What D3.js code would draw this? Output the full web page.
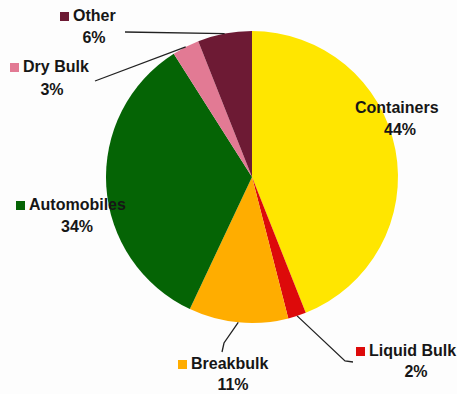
<!DOCTYPE html>
<html>
<head>
<meta charset="utf-8">
<script src="https://cdn.jsdelivr.net/npm/d3@7"></script>
<style>
  html, body { margin: 0; padding: 0; background: #fdfdfd; }
  svg { display: block; }
  text { font-family: "Liberation Sans", Arial, sans-serif; font-weight: bold; fill: #161616; }
</style>
</head>
<body>
<svg id="chart" width="457" height="394"></svg>
<script>
// Cargo mix by share of tonnage
const categories = ["Containers", "Liquid Bulk", "Breakbulk", "Automobiles", "Dry Bulk", "Other"];
const shares = [44, 2, 11, 34, 3, 6];
const colors = ["#ffe600", "#dd0a0a", "#ffad00", "#056405", "#e27a94", "#6d1a34"];

const W = 457, H = 394;
const cx = 252, cy = 177, R = 146;

const svg = d3.select("#chart");
const g = svg.append("g").attr("transform", `translate(${cx},${cy})`);

const data = categories.map((c, i) => ({ name: c, value: shares[i], color: colors[i] }));
const pie = d3.pie().value(d => d.value).sort(null);
const arc = d3.arc().innerRadius(0).outerRadius(R);
const arcs = pie(data);

g.selectAll("path.slice")
  .data(arcs)
  .join("path")
  .attr("class", "slice")
  .attr("d", arc)
  .attr("fill", d => d.data.color);

// label layout: legend key + name on first line, percentage centred below
const labelLayout = {
  "Containers":  { nameX: 355, y: 113, pctX: 400, pctDy: 22, key: false },
  "Liquid Bulk": { nameX: 369, y: 356, pctX: 416, pctDy: 21, key: true },
  "Breakbulk":   { nameX: 191, y: 369, pctX: 233, pctDy: 21, key: true },
  "Automobiles": { nameX: 29,  y: 210, pctX: 77,  pctDy: 22, key: true },
  "Dry Bulk":    { nameX: 23,  y: 72,  pctX: 52,  pctDy: 23, key: true },
  "Other":       { nameX: 73,  y: 21,  pctX: 94,  pctDy: 22, key: true }
};

// leader lines: points in page coordinates, ending on the slice's outer edge
function edgePoint(a) {
  const mid = (a.startAngle + a.endAngle) / 2;
  return [cx + Math.sin(mid) * R, cy - Math.cos(mid) * R];
}
const leaders = {
  "Other":       [[125, 32]],
  "Dry Bulk":    [[95, 81]],
  "Breakbulk":   [[222, 352], [224, 343]],
  "Liquid Bulk": [[353, 362], [345, 361]]
};

const line = d3.line();
arcs.forEach(a => {
  const pts = leaders[a.data.name];
  if (!pts) return;
  svg.append("path")
    .attr("d", line(pts.concat([edgePoint(a)])))
    .attr("fill", "none")
    .attr("stroke", "#222")
    .attr("stroke-width", 1.3);
});

const labels = svg.selectAll("g.label")
  .data(arcs)
  .join("g")
  .attr("class", "label");

labels.each(function(a) {
  const L = labelLayout[a.data.name];
  const sel = d3.select(this);
  if (L.key) {
    sel.append("rect")
      .attr("x", L.nameX - 13)
      .attr("y", L.y - 9)
      .attr("width", 9)
      .attr("height", 9)
      .attr("fill", a.data.color);
  }
  sel.append("text")
    .attr("x", L.nameX)
    .attr("y", L.y)
    .attr("font-size", 16)
    .text(a.data.name);
  sel.append("text")
    .attr("x", L.pctX)
    .attr("y", L.y + L.pctDy)
    .attr("font-size", 16)
    .attr("text-anchor", "middle")
    .text(a.data.value + "%");
});
</script>
</body>
</html>
